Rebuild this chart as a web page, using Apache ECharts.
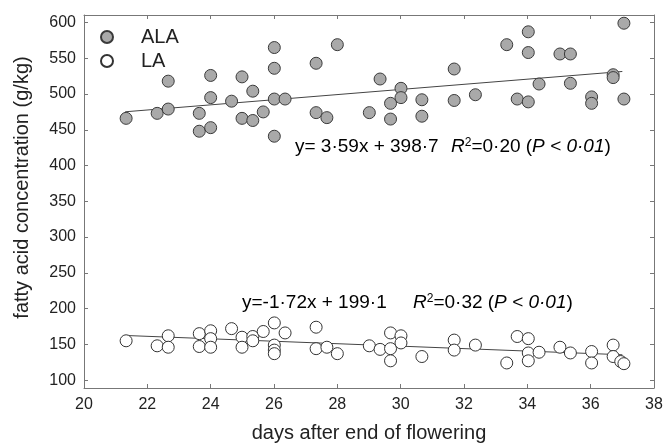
<!DOCTYPE html>
<html>
<head>
<meta charset="utf-8">
<script src="https://cdn.jsdelivr.net/npm/echarts@6/dist/echarts.min.js"></script>
<style>
  html, body { margin: 0; padding: 0; background: #fff; }
  #chart { width: 665px; height: 443px; }
</style>
</head>
<body>
<div id="chart"></div>
<script>
// ALA (filled) and LA (open) points
const alaX = [21.33, 22.31, 22.66, 22.66, 23.64, 23.64, 24.0, 24.0, 24.0, 24.66, 24.99, 24.99, 25.33, 25.33, 25.66,
  26.01, 26.01, 26.01, 26.01, 26.35, 27.33, 27.33, 27.67, 28.0, 29.01, 29.35, 29.68, 29.68, 30.01, 30.01,
  30.67, 30.67, 31.69, 31.69, 32.36, 33.35, 33.68, 34.03, 34.03, 34.03, 34.37, 35.03, 35.36, 35.36, 36.03,
  36.03, 36.71, 36.71, 37.05, 37.05];
const alaY = [466, 473, 518, 479, 473, 448, 453, 495, 526, 490, 524, 466, 504, 463, 475,
  565, 536, 493, 441, 493, 543, 474, 467, 569, 474, 521, 487, 465, 508, 495,
  492, 469, 535, 491, 499, 569, 493, 587, 558, 489, 514, 556, 556, 515, 496,
  487, 527, 523, 599, 493];

const laX = [21.33, 22.31, 22.66, 22.66, 23.64, 23.64, 24.0, 24.0, 24.0, 24.66, 24.99, 24.99, 25.33, 25.33, 25.66,
  26.01, 26.01, 26.01, 26.01, 26.35, 27.33, 27.33, 27.67, 28.0, 29.01, 29.35, 29.68, 29.68, 29.68, 30.01,
  30.01, 30.67, 31.69, 31.69, 32.36, 33.35, 33.68, 34.03, 34.03, 34.03, 34.37, 35.03, 35.36, 36.03, 36.03,
  36.71, 36.71, 36.95, 37.05];
const laY = [155, 148, 162, 146, 165, 147, 169, 158, 146, 172, 160, 146, 161, 155, 168,
  180, 149, 142, 137, 166, 174, 144, 146, 137, 148, 143, 166, 144, 127, 162,
  152, 133, 156, 142, 149, 124, 161, 158, 138, 127, 139, 146, 138, 140, 124,
  149, 133, 126, 123];

// regression lines as printed on the figure
const fitRange = [21.3, 37.0];
const alaFit = { slope: 3.59, intercept: 398.7 };
const laFit = { slope: -1.72, intercept: 199.1 };

const yTicks = [100, 150, 200, 250, 300, 350, 400, 450, 500, 550, 600];

const pairs = (xs, ys) => xs.map((x, i) => [x, ys[i]]);
const fitLine = f => fitRange.map(x => [x, f.slope * x + f.intercept]);

const axisColor = '#777';
const textColor = '#222';
const font = 'Liberation Sans, Arial, sans-serif';

const chart = echarts.init(document.getElementById('chart'));

const eqRich = {
  n: { fontSize: 19, fontFamily: font, color: textColor },
  i: { fontSize: 19, fontFamily: font, color: textColor, fontStyle: 'italic' },
  s: { fontSize: 12, fontFamily: font, color: textColor, verticalAlign: 'top', padding: [0, 0, 8, 0] }
};

const option = {
  animation: false,
  grid: { left: 84, right: 11, top: 15, bottom: 55, outerBoundsMode: 'none' },
  legend: {
    orient: 'vertical',
    left: 95,
    top: 22,
    itemWidth: 58,
    itemHeight: 12,
    itemGap: 4,
    data: ['ALA', 'LA'],
    textStyle: { fontSize: 20, fontFamily: font, color: textColor, lineHeight: 20, padding: [0, 0, 0, 0] }
  },
  xAxis: [{
    type: 'value', min: 20, max: 38, interval: 2,
    name: 'days after end of flowering', nameLocation: 'middle', nameGap: 35,
    nameTextStyle: { fontSize: 20, fontFamily: font, color: textColor },
    axisLine: { lineStyle: { color: axisColor } },
    axisTick: { inside: true, length: 4, lineStyle: { color: axisColor } },
    axisLabel: { fontSize: 16, fontFamily: font, color: textColor, margin: 9 },
    splitLine: { show: false }
  }, {
    type: 'value', position: 'top', min: 20, max: 38, interval: 2,
    axisLine: { show: true, lineStyle: { color: axisColor } },
    axisTick: { inside: true, length: 4, lineStyle: { color: axisColor } },
    axisLabel: { show: false },
    splitLine: { show: false }
  }],
  yAxis: [{
    type: 'value', min: 89, max: 610.5,
    name: 'fatty acid concentration (g/kg)', nameLocation: 'middle', nameGap: 52,
    nameTextStyle: { fontSize: 20, fontFamily: font, color: textColor, padding: [0, 0, 0, 28] },
    axisLine: { show: true, lineStyle: { color: axisColor } },
    axisTick: { inside: true, length: 4, customValues: yTicks, lineStyle: { color: axisColor } },
    axisLabel: { fontSize: 16, fontFamily: font, color: textColor, margin: 8, customValues: yTicks },
    splitLine: { show: false }
  }, {
    type: 'value', position: 'right', min: 89, max: 610.5,
    axisLine: { show: true, lineStyle: { color: axisColor } },
    axisTick: { inside: true, length: 4, customValues: yTicks, lineStyle: { color: axisColor } },
    axisLabel: { show: false },
    splitLine: { show: false }
  }],
  series: [
    {
      name: 'ALA fit', type: 'line', data: fitLine(alaFit), symbol: 'none', z: 1,
      lineStyle: { color: '#444', width: 1 }
    },
    {
      name: 'LA fit', type: 'line', data: fitLine(laFit), symbol: 'none', z: 1,
      lineStyle: { color: '#444', width: 1 }
    },
    {
      name: 'ALA', type: 'scatter', data: pairs(alaX, alaY), symbolSize: 12, z: 3,
      itemStyle: { color: '#a9a9a9', borderColor: '#3a3a3a', borderWidth: 1, opacity: 1 }
    },
    {
      name: 'LA', type: 'scatter', data: pairs(laX, laY), symbolSize: 12, z: 3,
      itemStyle: { color: '#fff', borderColor: '#333', borderWidth: 1, opacity: 1 }
    }
  ],
  graphic: [
    { type: 'text', x: 295, y: 147, style: { text: '{n|y= 3·59x + 398·7}', rich: eqRich, verticalAlign: 'middle' } },
    { type: 'text', x: 451, y: 147, style: { text: '{i|R}{s|2}{n|=0·20 (}{i|P < 0·01}{n|)}', rich: eqRich, verticalAlign: 'middle' } },
    { type: 'text', x: 242, y: 303, style: { text: '{n|y=-1·72x + 199·1}', rich: eqRich, verticalAlign: 'middle' } },
    { type: 'text', x: 413, y: 303, style: { text: '{i|R}{s|2}{n|=0·32 (}{i|P < 0·01}{n|)}', rich: eqRich, verticalAlign: 'middle' } }
  ]
};

chart.setOption(option);
</script>
</body>
</html>
